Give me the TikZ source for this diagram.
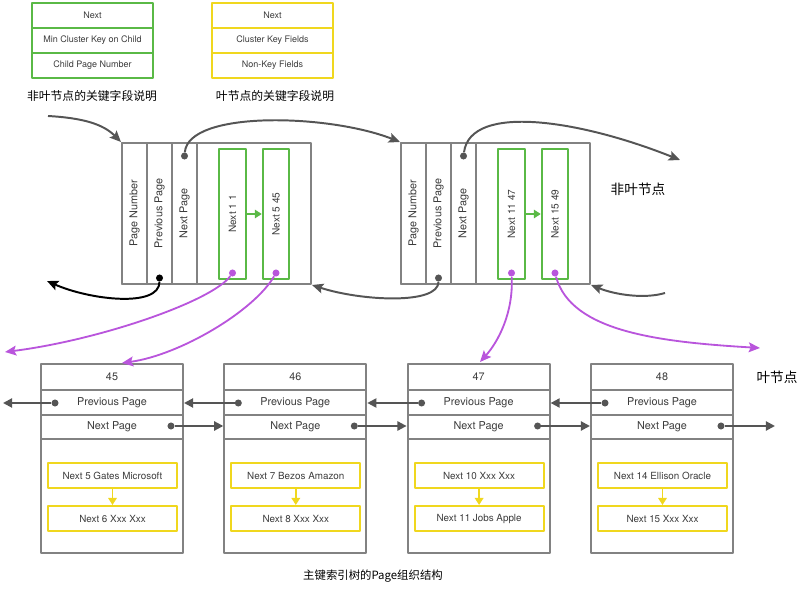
\documentclass[tikz,border=0pt]{standalone}
\usepackage{fontspec}
\usepackage{graphicx}
\setmainfont{TeX Gyre Heros}
\newfontfamily\cjk{Noto Sans CJK SC}
\usepackage{tikz}
\usetikzlibrary{arrows.meta}
\definecolor{boxgray}{RGB}{130,130,130}
\definecolor{arrowgray}{RGB}{85,85,85}
\definecolor{keygreen}{RGB}{90,185,70}
\definecolor{recyellow}{RGB}{240,215,30}
\definecolor{linkpurple}{RGB}{185,85,220}
\definecolor{textgray}{RGB}{60,60,60}

\begin{document}
\begin{tikzpicture}[x=0.025cm, y=0.025cm, line join=round]
      \tikzstyle{arrow} = [line width=1.4pt, draw=arrowgray, -{Stealth[length=8pt,width=7pt,inset=1.5pt]}]
      \tikzstyle{link} = [line width=1.4pt, draw=arrowgray, -{Triangle[length=6.5pt,width=6.5pt]}]
      \tikzstyle{pointer} = [line width=1.3pt, draw=linkpurple, -{Stealth[length=8pt,width=7pt,inset=1.5pt]}]
      \tikzstyle{frame} = [rectangle, draw=boxgray, line width=1.4pt, minimum width=4.725cm, minimum height=3.525cm, inner sep=0pt]
      \tikzstyle{column} = [rectangle, draw=boxgray, line width=1.4pt, minimum width=0.625cm, minimum height=3.525cm, inner sep=0pt, font=\fontsize{7.7}{9}\selectfont, text=textgray]
      \tikzstyle{keybox} = [rectangle, draw=keygreen, line width=1.4pt, minimum width=0.66cm, minimum height=3.25cm, inner sep=0pt, font=\fontsize{7.2}{9}\selectfont, text=textgray]
      \tikzstyle{row} = [rectangle, draw=boxgray, line width=1.4pt, minimum width=3.55cm, inner sep=0pt, font=\fontsize{7.7}{9}\selectfont, text=textgray]
      \tikzstyle{record} = [rectangle, draw=recyellow, line width=1.4pt, minimum width=3.225cm, minimum height=0.625cm, inner sep=0pt, font=\fontsize{7}{8}\selectfont, text=textgray]
      \tikzstyle{legend} = [rectangle, line width=1.4pt, minimum width=3.025cm, minimum height=0.625cm, inner sep=0pt, font=\fontsize{6.4}{8}\selectfont, text=textgray]
      \tikzstyle{dot} = [circle, fill=arrowgray, minimum size=5pt, inner sep=0pt]
      \tikzstyle{pdot} = [circle, fill=linkpurple, minimum size=5pt, inner sep=0pt]
      \tikzstyle{title} = [font=\cjk\fontsize{8.4}{10}\selectfont, text=black]

      \useasboundingbox (0,0) rectangle (803,-609);

      % legend
      \node (nl-next) [legend, draw=keygreen] at (92.5,-15.5) {Next};
      \node (nl-key) [legend, draw=keygreen] at (92.5,-40.5) {Min Cluster Key on Child};
      \node (nl-child) [legend, draw=keygreen] at (92.5,-65.5) {Child Page Number};
      \node (lf-next) [legend, draw=recyellow] at (272.5,-15.5) {Next};
      \node (lf-key) [legend, draw=recyellow] at (272.5,-40.5) {Cluster Key Fields};
      \node (lf-nonkey) [legend, draw=recyellow] at (272.5,-65.5) {Non-Key Fields};
      \node (nl-title) [title] at (92,-96) {非叶节点的关键字段说明};
      \node (lf-title) [title] at (275,-96) {叶节点的关键字段说明};

      % non-leaf pages
      \foreach \i/\off/\ka/\kb in {1/0/Next 1 1/Next 5 45, 2/279/Next 11 47/Next 15 49}
      {
        \node (page-\i) [frame] at (216.5+\off,-213.5) {};
        \node (pn-\i) [column] at (134.5+\off,-213.5) {\rotatebox{90}{Page Number}};
        \node (pp-\i) [column] at (159.5+\off,-213.5) {\rotatebox{90}{Previous Page}};
        \node (np-\i) [column] at (184.5+\off,-213.5) {\rotatebox{90}{Next Page}};
        \node (ka-\i) [keybox] at (232.5+\off,-214) {\rotatebox{90}{\ka}};
        \node (kb-\i) [keybox] at (276+\off,-214) {\rotatebox{90}{\kb}};
        \draw [line width=1.4pt, draw=keygreen, -{Triangle[length=5pt,width=6pt]}] (ka-\i) -- (kb-\i);
        \node (npd-\i) [dot] at (184.5+\off,-156) {};
        \node (pkd-a-\i) [pdot] at ([yshift=0.175cm]ka-\i.south) {};
        \node (pkd-b-\i) [pdot] at ([yshift=0.175cm]kb-\i.south) {};
      }
      \node (ppd-1) [dot, fill=black] at (159.5,-278) {};
      \node (ppd-2) [dot] at (438.5,-278) {};
      \node (nl-tag) [font=\cjk\fontsize{9.7}{11}\selectfont] at (638,-189) {非叶节点};

      \coordinate (nl-in) at (48,-116);
      \coordinate (nl-out) at (680,-160);
      \coordinate (nl-back) at (47,-281);
      \coordinate (nl-back-in) at (665,-293);
      \draw [arrow] (nl-in) .. controls +(35,-2) and +(-18,18) .. (page-1.north west);
      \draw [arrow] (npd-1) .. controls +(4,46) and +(-71,28) .. (page-2.north west);
      \draw [arrow] (npd-2) .. controls +(7,53) and +(-100,40) .. (nl-out);
      \draw [arrow, draw=black] (ppd-1) .. controls +(0,-30) and +(43,-19) .. (nl-back);
      \draw [arrow] (ppd-2) .. controls +(0,-27) and +(49,-16) .. (page-1.south east);
      \draw [arrow] (nl-back-in) .. controls +(-20,-6) and +(25,-10) .. (page-2.south east);

      % leaf pages
      \foreach \k/\x/\num/\ra/\rb in {1/112/45/Next 5 Gates Microsoft/Next 6 Xxx Xxx,
                                      2/295.3/46/Next 7 Bezos Amazon/Next 8 Xxx Xxx,
                                      3/478.6/47/Next 10 Xxx Xxx/Next 11 Jobs Apple,
                                      4/662/48/Next 14 Ellison Oracle/Next 15 Xxx Xxx}
      {
        \node (lf-\k-num) [row, minimum height=0.65cm] at (\x,-377) {\num};
        \node (lf-\k-prev) [row, minimum height=0.625cm] at (\x,-402.5) {Previous Page};
        \node (lf-\k-next) [row, minimum height=0.6cm] at (\x,-427) {Next Page};
        \node (lf-\k-body) [row, minimum height=2.85cm] at (\x,-496) {};
        \node (rec-\k-a) [record] at (\x+0.5,-475.5) {\ra};
        \node (rec-\k-b) [record] at (\x+0.5,-518.5) {\rb};
        \draw [line width=1.4pt, draw=recyellow, -{Triangle[length=5pt,width=6pt]}] (rec-\k-a) -- (rec-\k-b);
        \node (lf-\k-pd) [dot] at (\x-57,-403) {};
        \node (lf-\k-nd) [dot] at (\x+59,-426) {};
      }
      \node (lf-tag) [font=\cjk\fontsize{9.7}{11}\selectfont] at (777,-377) {叶节点};

      \coordinate (lf-left) at (3,-403);
      \coordinate (lf-right) at (775,-426);
      \draw [link] (lf-1-pd) -- (lf-left);
      \draw [link] (lf-4-nd) -- (lf-right);
      \foreach \i/\j in {2/1, 3/2, 4/3}
      {
        \draw [link] (lf-\i-pd) -- (lf-\j-prev.east |- lf-\i-pd);
        \draw [link] (lf-\j-nd) -- (lf-\i-next.west |- lf-\j-nd);
      }

      % child pointers
      \coordinate (ptr-1) at (5,-352);
      \coordinate (ptr-2) at (122,-363);
      \coordinate (ptr-3) at (480,-362);
      \coordinate (ptr-4) at (760,-348);
      \draw [pointer] (pkd-a-1) .. controls +(-20,-28) and +(95,12) .. (ptr-1);
      \draw [pointer] (pkd-b-1) .. controls +(-22,-38) and +(58,8) .. (ptr-2);
      \draw [pointer] (pkd-a-2) .. controls +(2,-40) and +(18,20) .. (ptr-3);
      \draw [pointer] (pkd-b-2) .. controls +(16,-59) and +(-100,6) .. (ptr-4);

      \node (caption) [font=\cjk\fontsize{8.1}{10}\selectfont] at (373,-576) {主键索引树的Page组织结构};
\end{tikzpicture}
\end{document}
